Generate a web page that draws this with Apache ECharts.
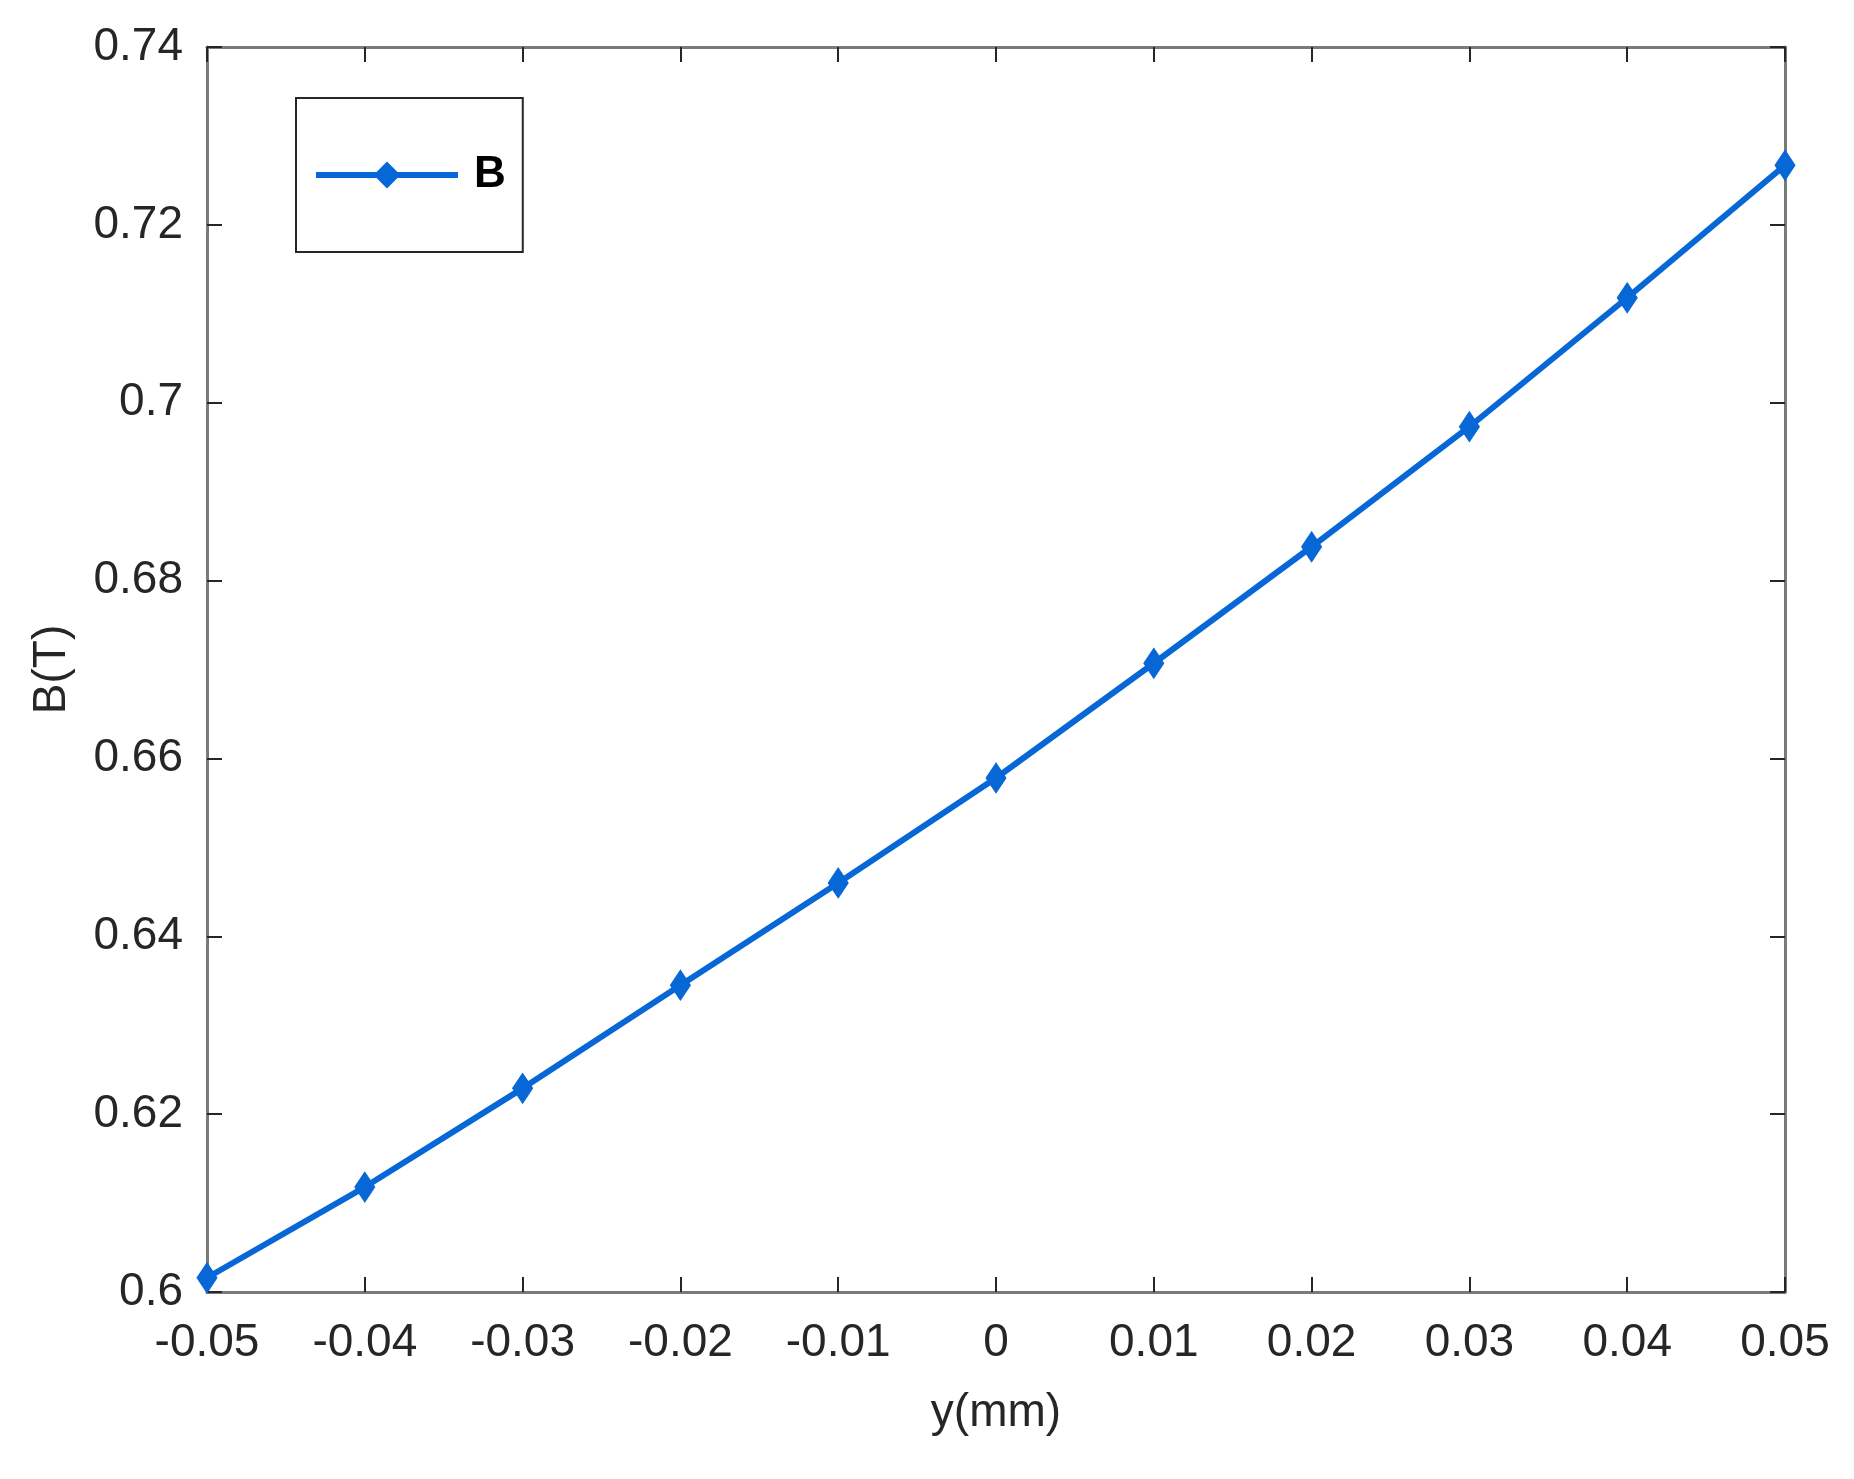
<!DOCTYPE html>
<html>
<head>
<meta charset="utf-8">
<title>B(T) vs y(mm)</title>
<script src="https://cdn.jsdelivr.net/npm/echarts@6/dist/echarts.min.js"></script>
<style>
  html, body { margin: 0; padding: 0; background: #fff; }
  #main { width: 1854px; height: 1479px; }
</style>
</head>
<body>
<div id="main"></div>
<script>
// data
var yPos = [-0.05, -0.04, -0.03, -0.02, -0.01, 0, 0.01, 0.02, 0.03, 0.04, 0.05];
var bValues = [0.6016, 0.6118, 0.6229, 0.6345, 0.6460, 0.6578, 0.6707, 0.6838, 0.6973, 0.7118, 0.7267];
var seriesName = 'B';

var lineColor = '#0767D6';
var textColor = '#262626';
var frameColor = '#7a7a7a';
var fontFamily = '"Liberation Sans", Arial, Helvetica, sans-serif';

var points = yPos.map(function (x, i) { return [x, bValues[i]]; });

var chart = echarts.init(document.getElementById('main'));

// axes that only draw the box + inward ticks
function frameAxis(extra) {
  var base = {
    type: 'value',
    splitLine: { show: false },
    axisLine: { show: true, onZero: false, lineStyle: { color: frameColor, width: 3 } },
    axisTick: { show: true, inside: true, length: 15, lineStyle: { color: textColor, width: 2 } },
    axisLabel: { show: false }
  };
  return Object.assign(base, extra);
}

var option = {
  backgroundColor: '#fff',
  animation: false,
  textStyle: { fontFamily: fontFamily },
  grid: { left: 207, right: 69, top: 47, bottom: 187, containLabel: false },
  legend: {
    left: 296,
    top: 98,
    orient: 'vertical',
    padding: [55, 17, 55, 17],
    borderColor: textColor,
    borderWidth: 2,
    itemWidth: 142,
    itemHeight: 30,
    data: [seriesName],
    lineStyle: { width: 6, color: lineColor },
    textStyle: {
      fontFamily: fontFamily,
      fontSize: 44,
      fontWeight: 'bold',
      color: '#000',
      padding: [0, 0, 0, 11]
    }
  },
  xAxis: [
    frameAxis({
      position: 'bottom',
      min: -0.05, max: 0.05, interval: 0.01,
      name: 'y(mm)',
      nameLocation: 'middle',
      nameGap: 98,
      nameTextStyle: { fontSize: 46, color: textColor, fontFamily: fontFamily },
      axisLabel: { show: true, margin: 28, fontSize: 46, color: textColor, fontFamily: fontFamily }
    }),
    frameAxis({ position: 'top', min: -0.05, max: 0.05, interval: 0.01 })
  ],
  yAxis: [
    frameAxis({
      position: 'left',
      min: 0.6, max: 0.74, interval: 0.02,
      name: 'B(T)',
      nameLocation: 'middle',
      nameGap: 132,
      nameRotate: 90,
      nameTextStyle: { fontSize: 46, color: textColor, fontFamily: fontFamily },
      axisLabel: { show: true, margin: 24, fontSize: 46, color: textColor, fontFamily: fontFamily }
    }),
    frameAxis({ position: 'right', min: 0.6, max: 0.74, interval: 0.02 })
  ],
  series: [
    {
      name: seriesName,
      type: 'line',
      xAxisIndex: 0,
      yAxisIndex: 0,
      data: points,
      symbol: 'diamond',
      symbolSize: [20, 30],
      showAllSymbol: true,
      clip: false,
      lineStyle: { color: lineColor, width: 6 },
      itemStyle: { color: lineColor, borderColor: lineColor, borderWidth: 1 }
    }
  ]
};

chart.setOption(option);
</script>
</body>
</html>
